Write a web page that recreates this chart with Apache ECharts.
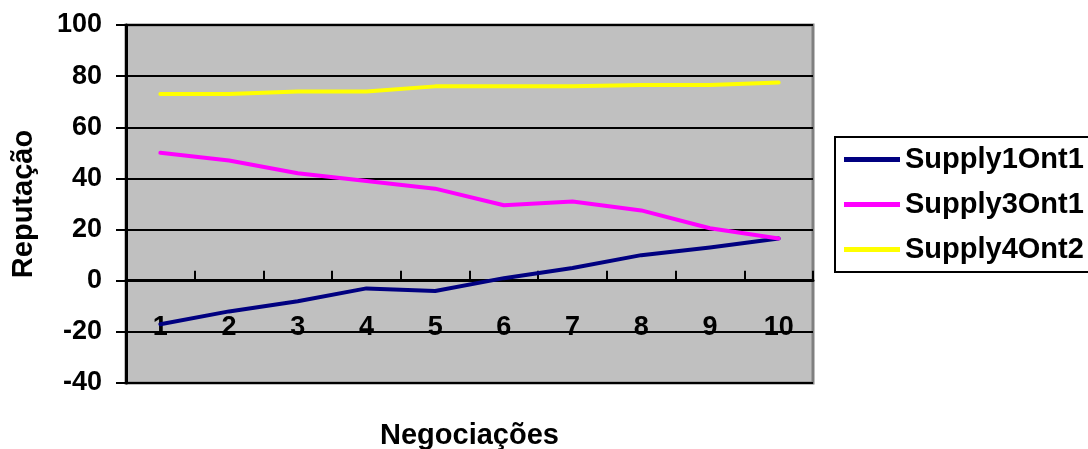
<!DOCTYPE html>
<html>
<head>
<meta charset="utf-8">
<script src="https://cdn.jsdelivr.net/npm/echarts@6/dist/echarts.min.js"></script>
<style>
html, body { margin: 0; padding: 0; background: #fff; }
#chart { width: 1088px; height: 449px; }
</style>
</head>
<body>
<div id="chart"></div>
<script>
var categories = ['1', '2', '3', '4', '5', '6', '7', '8', '9', '10'];
var supply1Ont1 = [-17, -12, -8, -3, -4, 1, 5, 10, 13, 16.5];
var supply3Ont1 = [50, 47, 42, 39, 36, 29.5, 31, 27.5, 20.5, 16.5];
var supply4Ont2 = [73, 73, 74, 74, 76, 76, 76, 76.5, 76.5, 77.5];
var yTicks = { min: -40, max: 100, step: 20 };

var font = 'Liberation Sans, Arial, sans-serif';

var myChart = echarts.init(document.getElementById('chart'));

var option = {
	backgroundColor: '#ffffff',
	animation: false,
	textStyle: { fontFamily: font },
	grid: {
		left: 126, right: 275, top: 25, bottom: 66,
		containLabel: false,
		outerBoundsMode: 'none',
		show: true,
		backgroundColor: '#c0c0c0',
		borderColor: '#808080',
		borderWidth: 3
	},
	legend: {
		orient: 'vertical',
		left: 835, top: 137,
		padding: [8, 40, 8, 9],
		borderColor: '#000',
		borderWidth: 2,
		backgroundColor: '#fff',
		icon: 'rect',
		itemWidth: 56,
		itemHeight: 5,
		itemGap: 16,
		textStyle: { fontFamily: font, fontWeight: 'bold', fontSize: 29, color: '#000' },
		data: ['Supply1Ont1', 'Supply3Ont1', 'Supply4Ont2']
	},
	xAxis: {
		type: 'category',
		data: categories,
		boundaryGap: true,
		name: 'Negociações',
		nameLocation: 'middle',
		nameGap: 38,
		nameTextStyle: { fontFamily: font, fontWeight: 'bold', fontSize: 29, color: '#000' },
		axisLine: { onZero: true, lineStyle: { color: '#000', width: 3 } },
		axisTick: { show: true, inside: true, length: 10, lineStyle: { color: '#000', width: 2 } },
		axisLabel: { margin: -69, fontFamily: font, fontWeight: 'bold', fontSize: 27, color: '#000' },
		splitLine: { show: false }
	},
	yAxis: {
		type: 'value',
		min: yTicks.min,
		max: yTicks.max,
		interval: yTicks.step,
		name: 'Reputação',
		nameLocation: 'middle',
		nameGap: 88,
		nameTextStyle: { fontFamily: font, fontWeight: 'bold', fontSize: 29, color: '#000' },
		axisLine: { show: true, lineStyle: { color: '#000', width: 3 } },
		axisTick: { show: true, length: 10, lineStyle: { color: '#000', width: 2 } },
		axisLabel: { margin: 24, fontFamily: font, fontWeight: 'bold', fontSize: 27, color: '#000' },
		splitLine: { show: true, lineStyle: { color: '#000', width: 2 } }
	},
	series: [
		{
			name: 'Supply1Ont1', type: 'line', data: supply1Ont1,
			symbol: 'none', color: '#000080',
			lineStyle: { width: 4, color: '#000080', cap: 'round', join: 'round' }
		},
		{
			name: 'Supply3Ont1', type: 'line', data: supply3Ont1,
			symbol: 'none', color: '#ff00ff',
			lineStyle: { width: 4, color: '#ff00ff', cap: 'round', join: 'round' }
		},
		{
			name: 'Supply4Ont2', type: 'line', data: supply4Ont2,
			symbol: 'none', color: '#ffff00',
			lineStyle: { width: 4, color: '#ffff00', cap: 'round', join: 'round' }
		}
	]
};

myChart.setOption(option);
</script>
</body>
</html>
